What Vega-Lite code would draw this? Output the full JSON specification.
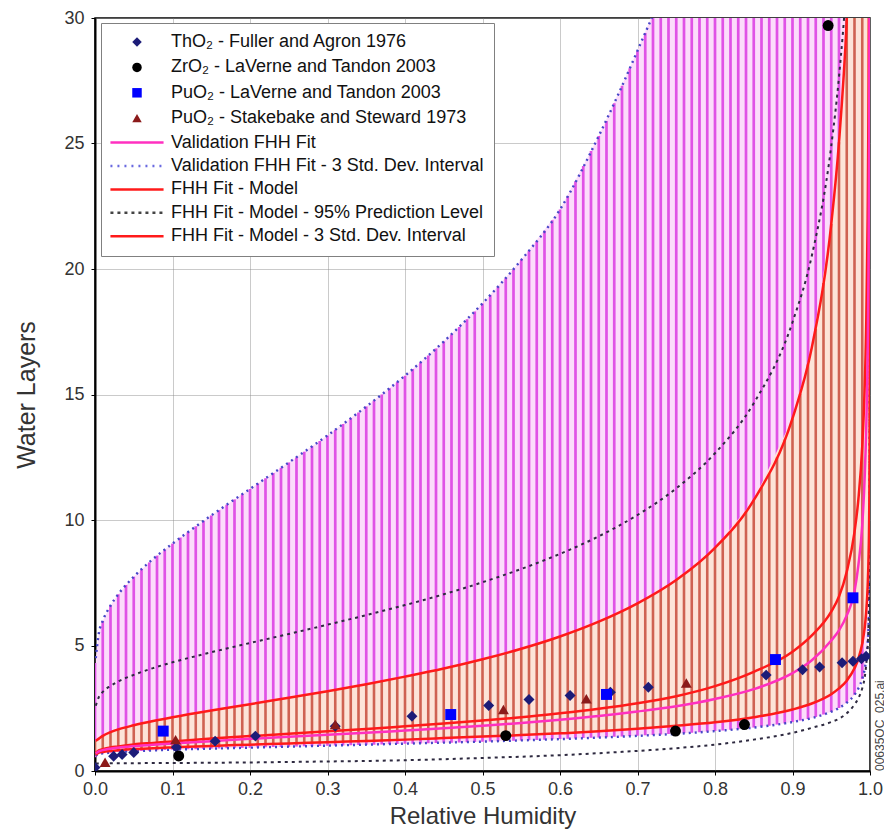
{
  "$schema": "https://vega.github.io/schema/vega-lite/v6.json",
  "width": 775,
  "height": 753,
  "autosize": {"type": "none"},
  "padding": {"left": 95, "top": 18, "right": 14, "bottom": 64},
  "background": "white",
  "title": {"text": "00635OC_025.ai", "orient": "right", "anchor": "end", "frame": "group", "angle": 270, "align": "left", "baseline": "middle", "offset": -15, "fontSize": 12, "fontWeight": "normal", "font": "Liberation Sans", "color": "#444444"},
  "config": {
    "font": "Liberation Sans",
    "view": {"stroke": "#000000", "strokeWidth": 1.5},
    "axis": {"zindex": 1, "gridColor": "#8a8a8a", "gridOpacity": 0.45, "gridWidth": 1, "domainColor": "#000000", "domainWidth": 2, "tickColor": "#000000", "tickSize": 4, "labelFontSize": 18, "labelColor": "#333333", "titleFontSize": 24, "titleFontWeight": "normal", "titleColor": "#333333"}
  },
  "datasets": {
    "h": [
      {"x":0.00,"vl":0.55,"vh":4.3,"ml":0.62,"mh":1.2},
      {"x":0.01,"vl":0.70,"vh":5.98,"ml":0.76,"mh":1.40},
      {"x":0.02,"vl":0.73,"vh":6.59,"ml":0.80,"mh":1.55},
      {"x":0.03,"vl":0.76,"vh":7.04,"ml":0.83,"mh":1.66},
      {"x":0.04,"vl":0.77,"vh":7.41,"ml":0.85,"mh":1.74},
      {"x":0.05,"vl":0.79,"vh":7.74,"ml":0.87,"mh":1.82},
      {"x":0.06,"vl":0.80,"vh":8.04,"ml":0.89,"mh":1.89},
      {"x":0.07,"vl":0.81,"vh":8.31,"ml":0.90,"mh":1.96},
      {"x":0.08,"vl":0.83,"vh":8.58,"ml":0.92,"mh":2.02},
      {"x":0.09,"vl":0.84,"vh":8.82,"ml":0.93,"mh":2.08},
      {"x":0.10,"vl":0.85,"vh":9.06,"ml":0.94,"mh":2.14},
      {"x":0.11,"vl":0.86,"vh":9.30,"ml":0.95,"mh":2.20},
      {"x":0.12,"vl":0.87,"vh":9.52,"ml":0.97,"mh":2.25},
      {"x":0.13,"vl":0.87,"vh":9.75,"ml":0.98,"mh":2.30},
      {"x":0.14,"vl":0.88,"vh":9.96,"ml":0.99,"mh":2.36},
      {"x":0.15,"vl":0.89,"vh":10.18,"ml":1.00,"mh":2.41},
      {"x":0.16,"vl":0.90,"vh":10.39,"ml":1.01,"mh":2.46},
      {"x":0.17,"vl":0.91,"vh":10.61,"ml":1.02,"mh":2.51},
      {"x":0.18,"vl":0.92,"vh":10.82,"ml":1.03,"mh":2.56},
      {"x":0.19,"vl":0.92,"vh":11.03,"ml":1.04,"mh":2.61},
      {"x":0.20,"vl":0.93,"vh":11.24,"ml":1.05,"mh":2.66},
      {"x":0.21,"vl":0.94,"vh":11.45,"ml":1.06,"mh":2.71},
      {"x":0.22,"vl":0.95,"vh":11.66,"ml":1.07,"mh":2.76},
      {"x":0.23,"vl":0.96,"vh":11.87,"ml":1.08,"mh":2.81},
      {"x":0.24,"vl":0.96,"vh":12.08,"ml":1.09,"mh":2.87},
      {"x":0.25,"vl":0.97,"vh":12.29,"ml":1.10,"mh":2.92},
      {"x":0.26,"vl":0.98,"vh":12.50,"ml":1.11,"mh":2.97},
      {"x":0.27,"vl":0.99,"vh":12.72,"ml":1.12,"mh":3.02},
      {"x":0.28,"vl":0.99,"vh":12.94,"ml":1.13,"mh":3.07},
      {"x":0.29,"vl":1.00,"vh":13.15,"ml":1.14,"mh":3.13},
      {"x":0.30,"vl":1.01,"vh":13.37,"ml":1.15,"mh":3.18},
      {"x":0.31,"vl":1.02,"vh":13.60,"ml":1.16,"mh":3.23},
      {"x":0.32,"vl":1.02,"vh":13.82,"ml":1.17,"mh":3.29},
      {"x":0.33,"vl":1.03,"vh":14.05,"ml":1.18,"mh":3.34},
      {"x":0.34,"vl":1.04,"vh":14.28,"ml":1.19,"mh":3.40},
      {"x":0.35,"vl":1.05,"vh":14.52,"ml":1.20,"mh":3.46},
      {"x":0.36,"vl":1.05,"vh":14.76,"ml":1.21,"mh":3.51},
      {"x":0.37,"vl":1.06,"vh":15.00,"ml":1.22,"mh":3.57},
      {"x":0.38,"vl":1.07,"vh":15.25,"ml":1.23,"mh":3.63},
      {"x":0.39,"vl":1.08,"vh":15.50,"ml":1.24,"mh":3.69},
      {"x":0.40,"vl":1.09,"vh":15.75,"ml":1.25,"mh":3.76},
      {"x":0.41,"vl":1.09,"vh":16.02,"ml":1.26,"mh":3.82},
      {"x":0.42,"vl":1.10,"vh":16.28,"ml":1.28,"mh":3.88},
      {"x":0.43,"vl":1.11,"vh":16.55,"ml":1.29,"mh":3.95},
      {"x":0.44,"vl":1.12,"vh":16.83,"ml":1.30,"mh":4.01},
      {"x":0.45,"vl":1.13,"vh":17.11,"ml":1.31,"mh":4.08},
      {"x":0.46,"vl":1.13,"vh":17.40,"ml":1.32,"mh":4.15},
      {"x":0.47,"vl":1.14,"vh":17.69,"ml":1.33,"mh":4.23},
      {"x":0.48,"vl":1.15,"vh":18.00,"ml":1.34,"mh":4.30},
      {"x":0.49,"vl":1.16,"vh":18.31,"ml":1.35,"mh":4.37},
      {"x":0.50,"vl":1.17,"vh":18.63,"ml":1.37,"mh":4.45},
      {"x":0.51,"vl":1.18,"vh":18.95,"ml":1.38,"mh":4.53},
      {"x":0.52,"vl":1.19,"vh":19.29,"ml":1.39,"mh":4.61},
      {"x":0.53,"vl":1.20,"vh":19.64,"ml":1.40,"mh":4.70},
      {"x":0.54,"vl":1.21,"vh":19.99,"ml":1.42,"mh":4.78},
      {"x":0.55,"vl":1.22,"vh":20.36,"ml":1.43,"mh":4.87},
      {"x":0.56,"vl":1.23,"vh":20.73,"ml":1.44,"mh":4.96},
      {"x":0.57,"vl":1.24,"vh":21.12,"ml":1.46,"mh":5.06},
      {"x":0.58,"vl":1.25,"vh":21.52,"ml":1.47,"mh":5.16},
      {"x":0.59,"vl":1.26,"vh":21.94,"ml":1.49,"mh":5.26},
      {"x":0.60,"vl":1.27,"vh":22.37,"ml":1.50,"mh":5.36},
      {"x":0.61,"vl":1.28,"vh":22.9,"ml":1.52,"mh":5.47},
      {"x":0.62,"vl":1.29,"vh":23.5,"ml":1.53,"mh":5.58},
      {"x":0.63,"vl":1.31,"vh":24.1,"ml":1.55,"mh":5.70},
      {"x":0.64,"vl":1.32,"vh":24.7,"ml":1.57,"mh":5.82},
      {"x":0.65,"vl":1.33,"vh":25.3,"ml":1.58,"mh":5.95},
      {"x":0.66,"vl":1.34,"vh":25.9,"ml":1.60,"mh":6.08},
      {"x":0.67,"vl":1.36,"vh":26.6,"ml":1.62,"mh":6.22},
      {"x":0.68,"vl":1.37,"vh":27.3,"ml":1.64,"mh":6.37},
      {"x":0.69,"vl":1.39,"vh":28.0,"ml":1.66,"mh":6.52},
      {"x":0.70,"vl":1.40,"vh":28.7,"ml":1.68,"mh":6.68},
      {"x":0.71,"vl":1.42,"vh":29.4,"ml":1.70,"mh":6.84},
      {"x":0.72,"vl":1.43,"vh":30.2,"ml":1.72,"mh":7.02},
      {"x":0.73,"vl":1.45,"vh":31.0,"ml":1.75,"mh":7.21},
      {"x":0.74,"vl":1.47,"vh":31.6,"ml":1.77,"mh":7.40},
      {"x":0.75,"vl":1.48,"vh":32.5,"ml":1.80,"mh":7.61},
      {"x":0.76,"vl":1.50,"vh":33.4,"ml":1.82,"mh":7.83},
      {"x":0.77,"vl":1.52,"vh":34.4,"ml":1.85,"mh":8.07},
      {"x":0.78,"vl":1.54,"vh":35.5,"ml":1.88,"mh":8.32},
      {"x":0.79,"vl":1.57,"vh":36.6,"ml":1.91,"mh":8.60},
      {"x":0.80,"vl":1.59,"vh":37.9,"ml":1.94,"mh":8.89},
      {"x":0.81,"vl":1.61,"vh":39.3,"ml":1.98,"mh":9.20},
      {"x":0.82,"vl":1.64,"vh":40.7,"ml":2.01,"mh":9.55},
      {"x":0.83,"vl":1.67,"vh":42.2,"ml":2.05,"mh":9.92},
      {"x":0.84,"vl":1.70,"vh":43.9,"ml":2.10,"mh":10.33},
      {"x":0.85,"vl":1.73,"vh":45.7,"ml":2.14,"mh":10.79},
      {"x":0.86,"vl":1.77,"vh":47.8,"ml":2.19,"mh":11.29},
      {"x":0.87,"vl":1.80,"vh":50.0,"ml":2.25,"mh":11.85},
      {"x":0.88,"vl":1.85,"vh":52.6,"ml":2.31,"mh":12.49},
      {"x":0.89,"vl":1.89,"vh":55.5,"ml":2.38,"mh":13.21},
      {"x":0.90,"vl":1.95,"vh":59.0,"ml":2.45,"mh":14.05},
      {"x":0.91,"vl":2.01,"vh":63,"ml":2.54,"mh":15.03},
      {"x":0.92,"vl":2.07,"vh":67,"ml":2.64,"mh":16.20},
      {"x":0.93,"vl":2.15,"vh":72,"ml":2.75,"mh":17.63},
      {"x":0.94,"vl":2.25,"vh":78,"ml":2.89,"mh":19.44},
      {"x":0.95,"vl":2.36,"vh":86,"ml":3.06,"mh":21.79},
      {"x":0.96,"vl":2.51,"vh":96,"ml":3.29,"mh":25.05},
      {"x":0.97,"vl":2.72,"vh":110,"ml":3.60,"mh":29.92},
      {"x":0.98,"vl":3.04,"vh":135,"ml":4.09,"mh":38.5},
      {"x":0.99,"vl":3.67,"vh":190,"ml":5.08,"mh":58.9}
    ],
    "c": [
      {"x":0.001,"vh":4.5,"vl":0.6,"mh":1.2,"ml":0.65,"mf":0.73,"vf":0.70,"ph":2.6,"pl":0.3},
      {"x":0.005,"vh":5.5,"vl":0.68,"mh":1.29,"ml":0.73,"mf":0.82,"vf":0.78,"ph":2.95,"pl":0.3},
      {"x":0.01,"vh":5.98,"vl":0.70,"mh":1.40,"ml":0.76,"mf":0.87,"vf":0.83,"ph":3.15,"pl":0.3},
      {"x":0.02,"vh":6.59,"vl":0.73,"mh":1.55,"ml":0.80,"mf":0.94,"vf":0.89,"ph":3.39,"pl":0.31},
      {"x":0.03,"vh":7.04,"vl":0.76,"mh":1.66,"ml":0.83,"mf":0.98,"vf":0.93,"ph":3.57,"pl":0.31},
      {"x":0.05,"vh":7.74,"vl":0.79,"mh":1.82,"ml":0.87,"mf":1.06,"vf":0.99,"ph":3.83,"pl":0.31},
      {"x":0.075,"vh":8.45,"vl":0.82,"mh":1.99,"ml":0.91,"mf":1.12,"vf":1.05,"ph":4.10,"pl":0.32},
      {"x":0.1,"vh":9.06,"vl":0.85,"mh":2.14,"ml":0.94,"mf":1.18,"vf":1.10,"ph":4.33,"pl":0.32},
      {"x":0.15,"vh":10.18,"vl":0.89,"mh":2.41,"ml":1.00,"mf":1.29,"vf":1.19,"ph":4.73,"pl":0.33},
      {"x":0.2,"vh":11.24,"vl":0.93,"mh":2.66,"ml":1.05,"mf":1.39,"vf":1.28,"ph":5.10,"pl":0.34},
      {"x":0.25,"vh":12.29,"vl":0.97,"mh":2.92,"ml":1.10,"mf":1.48,"vf":1.36,"ph":5.46,"pl":0.36},
      {"x":0.3,"vh":13.37,"vl":1.01,"mh":3.18,"ml":1.15,"mf":1.58,"vf":1.44,"ph":5.83,"pl":0.38},
      {"x":0.35,"vh":14.52,"vl":1.05,"mh":3.46,"ml":1.20,"mf":1.67,"vf":1.52,"ph":6.21,"pl":0.40},
      {"x":0.4,"vh":15.75,"vl":1.09,"mh":3.76,"ml":1.25,"mf":1.78,"vf":1.61,"ph":6.61,"pl":0.43},
      {"x":0.45,"vh":17.11,"vl":1.13,"mh":4.08,"ml":1.31,"mf":1.89,"vf":1.70,"ph":7.04,"pl":0.47},
      {"x":0.5,"vh":18.63,"vl":1.17,"mh":4.45,"ml":1.37,"mf":2.01,"vf":1.80,"ph":7.52,"pl":0.52},
      {"x":0.55,"vh":20.36,"vl":1.22,"mh":4.87,"ml":1.43,"mf":2.14,"vf":1.91,"ph":8.05,"pl":0.57},
      {"x":0.6,"vh":22.37,"vl":1.27,"mh":5.36,"ml":1.50,"mf":2.30,"vf":2.04,"ph":8.65,"pl":0.63},
      {"x":0.65,"vh":25.3,"vl":1.33,"mh":5.95,"ml":1.58,"mf":2.48,"vf":2.19,"ph":9.35,"pl":0.71},
      {"x":0.7,"vh":28.7,"vl":1.40,"mh":6.68,"ml":1.68,"mf":2.70,"vf":2.37,"ph":10.20,"pl":0.80},
      {"x":0.75,"vh":32.5,"vl":1.48,"mh":7.61,"ml":1.80,"mf":2.98,"vf":2.58,"ph":11.26,"pl":0.91},
      {"x":0.8,"vh":37.9,"vl":1.59,"mh":8.89,"ml":1.94,"mf":3.38,"vf":2.87,"ph":12.66,"pl":1.05},
      {"x":0.85,"vh":45.7,"vl":1.73,"mh":10.79,"ml":2.14,"mf":3.95,"vf":3.26,"ph":14.65,"pl":1.25},
      {"x":0.9,"vh":59,"vl":1.95,"mh":14.05,"ml":2.45,"mf":4.75,"vf":3.90,"ph":17.88,"pl":1.52},
      {"x":0.925,"vh":70,"vl":2.11,"mh":16.88,"ml":2.69,"mf":5.40,"vf":4.41,"ph":20.54,"pl":1.72},
      {"x":0.95,"vh":86,"vl":2.36,"mh":21.79,"ml":3.06,"mf":6.35,"vf":5.20,"ph":24.9,"pl":1.95},
      {"x":0.96,"vh":96,"vl":2.51,"mh":25.05,"ml":3.29,"mf":6.95,"vf":5.60,"ph":27.66,"pl":2.08},
      {"x":0.97,"vh":110,"vl":2.72,"mh":29.92,"ml":3.60,"mf":7.94,"vf":6.20,"ph":31.6,"pl":2.3},
      {"x":0.98,"vh":135,"vl":3.04,"mh":38.5,"ml":4.09,"mf":9.52,"vf":7.15,"ph":38.2,"pl":2.65},
      {"x":0.985,"vh":160,"vl":3.29,"mh":45.9,"ml":4.47,"mf":10.82,"vf":8.2,"ph":45,"pl":2.9},
      {"x":0.99,"vh":190,"vl":3.67,"mh":58.9,"ml":5.08,"mf":12.94,"vf":9.8,"ph":55,"pl":3.3},
      {"x":0.993,"vh":230,"vl":4.04,"mh":75,"ml":5.67,"mf":15.15,"vf":11.6,"ph":65,"pl":3.7},
      {"x":0.995,"vh":270,"vl":4.43,"mh":90,"ml":6.30,"mf":17.58,"vf":13.5,"ph":75,"pl":4.2},
      {"x":0.997,"vh":350,"vl":5.08,"mh":120,"ml":7.38,"mf":22.02,"vf":16.7,"ph":95,"pl":5.0},
      {"x":0.998,"vh":420,"vl":5.67,"mh":150,"ml":8.37,"mf":26.32,"vf":19.8,"ph":110,"pl":5.8},
      {"x":0.999,"vh":560,"vl":6.84,"mh":210,"ml":10.38,"mf":35.7,"vf":26.3,"ph":150,"pl":7.5},
      {"x":0.9995,"vh":700,"vl":8.25,"mh":300,"ml":12.87,"mf":48,"vf":35,"ph":200,"pl":9.5},
      {"x":0.99999,"vh":2000,"vl":23.7,"mh":1500,"ml":43,"mf":300,"vf":200,"ph":1000,"pl":25},
      {"x":1.0,"vh":3000,"vl":40,"mh":2000,"ml":60,"mf":400,"vf":300,"ph":1500,"pl":40}
    ],
    "p": [
      {"s":"ThO₂ - Fuller and Agron 1976","x":0.0,"y":0.14},
      {"s":"ThO₂ - Fuller and Agron 1976","x":0.024,"y":0.59},
      {"s":"ThO₂ - Fuller and Agron 1976","x":0.035,"y":0.66},
      {"s":"ThO₂ - Fuller and Agron 1976","x":0.05,"y":0.74},
      {"s":"ThO₂ - Fuller and Agron 1976","x":0.105,"y":0.95},
      {"s":"ThO₂ - Fuller and Agron 1976","x":0.155,"y":1.19},
      {"s":"ThO₂ - Fuller and Agron 1976","x":0.207,"y":1.39},
      {"s":"ThO₂ - Fuller and Agron 1976","x":0.31,"y":1.78},
      {"s":"ThO₂ - Fuller and Agron 1976","x":0.409,"y":2.18},
      {"s":"ThO₂ - Fuller and Agron 1976","x":0.508,"y":2.61},
      {"s":"ThO₂ - Fuller and Agron 1976","x":0.56,"y":2.85},
      {"s":"ThO₂ - Fuller and Agron 1976","x":0.613,"y":3.01},
      {"s":"ThO₂ - Fuller and Agron 1976","x":0.665,"y":3.14},
      {"s":"ThO₂ - Fuller and Agron 1976","x":0.714,"y":3.34},
      {"s":"ThO₂ - Fuller and Agron 1976","x":0.866,"y":3.82},
      {"s":"ThO₂ - Fuller and Agron 1976","x":0.913,"y":4.03},
      {"s":"ThO₂ - Fuller and Agron 1976","x":0.935,"y":4.14},
      {"s":"ThO₂ - Fuller and Agron 1976","x":0.964,"y":4.31},
      {"s":"ThO₂ - Fuller and Agron 1976","x":0.978,"y":4.37},
      {"s":"ThO₂ - Fuller and Agron 1976","x":0.989,"y":4.47},
      {"s":"ThO₂ - Fuller and Agron 1976","x":0.995,"y":4.57},
      {"s":"ZrO₂ - LaVerne and Tandon 2003","x":0.108,"y":0.6},
      {"s":"ZrO₂ - LaVerne and Tandon 2003","x":0.53,"y":1.41},
      {"s":"ZrO₂ - LaVerne and Tandon 2003","x":0.749,"y":1.59},
      {"s":"ZrO₂ - LaVerne and Tandon 2003","x":0.838,"y":1.85},
      {"s":"ZrO₂ - LaVerne and Tandon 2003","x":0.946,"y":29.7},
      {"s":"PuO₂ - LaVerne and Tandon 2003","x":0.088,"y":1.59},
      {"s":"PuO₂ - LaVerne and Tandon 2003","x":0.459,"y":2.25},
      {"s":"PuO₂ - LaVerne and Tandon 2003","x":0.66,"y":3.05},
      {"s":"PuO₂ - LaVerne and Tandon 2003","x":0.878,"y":4.44},
      {"s":"PuO₂ - LaVerne and Tandon 2003","x":0.978,"y":6.9},
      {"s":"PuO₂ - Stakebake and Steward 1973","x":0.013,"y":0.35},
      {"s":"PuO₂ - Stakebake and Steward 1973","x":0.104,"y":1.25},
      {"s":"PuO₂ - Stakebake and Steward 1973","x":0.31,"y":1.85},
      {"s":"PuO₂ - Stakebake and Steward 1973","x":0.527,"y":2.45},
      {"s":"PuO₂ - Stakebake and Steward 1973","x":0.634,"y":2.88},
      {"s":"PuO₂ - Stakebake and Steward 1973","x":0.763,"y":3.51}
    ]
  },
  "layer": [
    {
      "data": {"name": "c"},
      "mark": {"type": "area", "color": "#fcdcfb", "clip": true},
      "encoding": {
        "x": {"field": "x", "type": "quantitative", "scale": {"domain": [0, 1], "nice": false, "zero": false}, "axis": {"title": "Relative Humidity", "values": [0,0.1,0.2,0.3,0.4,0.5,0.6,0.7,0.8,0.9,1.0], "format": ".1f", "labelPadding": 5, "titlePadding": 6, "labelFlush": false}},
        "y": {"field": "vl", "type": "quantitative", "scale": {"domain": [0, 30], "nice": false}, "axis": {"title": "Water Layers", "titleFontSize": 25, "values": [0,5,10,15,20,25,30], "labelPadding": 7, "titlePadding": 24, "labelFlush": false}},
        "y2": {"field": "vh"}
      }
    },
    {
      "data": {"name": "h"},
      "mark": {"type": "rule", "color": "#e052e6", "strokeWidth": 2.7, "clip": true},
      "encoding": {
        "x": {"field": "x", "type": "quantitative"},
        "y": {"field": "vl", "type": "quantitative"},
        "y2": {"field": "vh"}
      }
    },
    {
      "data": {"name": "c"},
      "mark": {"type": "area", "color": "#fde4d8", "clip": true},
      "encoding": {
        "x": {"field": "x", "type": "quantitative"},
        "y": {"field": "ml", "type": "quantitative"},
        "y2": {"field": "mh"}
      }
    },
    {
      "data": {"name": "h"},
      "mark": {"type": "rule", "color": "#cf6252", "strokeWidth": 2.6, "clip": true},
      "encoding": {
        "x": {"field": "x", "type": "quantitative"},
        "y": {"field": "ml", "type": "quantitative"},
        "y2": {"field": "mh"}
      }
    },
    {
      "data": {"name": "c"},
      "mark": {"type": "line", "color": "#4646c8", "strokeWidth": 2.4, "strokeDash": [2, 4], "clip": true, "interpolate": "monotone"},
      "encoding": {"x": {"field": "x", "type": "quantitative"}, "y": {"field": "vh", "type": "quantitative"}}
    },
    {
      "data": {"name": "c"},
      "mark": {"type": "line", "color": "#4646c8", "strokeWidth": 2.4, "strokeDash": [2, 4], "clip": true, "interpolate": "monotone"},
      "encoding": {"x": {"field": "x", "type": "quantitative"}, "y": {"field": "vl", "type": "quantitative"}}
    },
    {
      "data": {"name": "c"},
      "mark": {"type": "line", "color": "#2e2a40", "strokeWidth": 2, "strokeDash": [3, 4], "clip": true, "interpolate": "monotone"},
      "encoding": {"x": {"field": "x", "type": "quantitative"}, "y": {"field": "ph", "type": "quantitative"}}
    },
    {
      "data": {"name": "c"},
      "mark": {"type": "line", "color": "#2e2a40", "strokeWidth": 2, "strokeDash": [3, 4], "clip": true, "interpolate": "monotone"},
      "encoding": {"x": {"field": "x", "type": "quantitative"}, "y": {"field": "pl", "type": "quantitative"}}
    },
    {
      "data": {"name": "c"},
      "mark": {"type": "line", "color": "#ff1a1a", "strokeWidth": 2.5, "clip": true, "interpolate": "monotone"},
      "encoding": {"x": {"field": "x", "type": "quantitative"}, "y": {"field": "mh", "type": "quantitative"}}
    },
    {
      "data": {"name": "c"},
      "mark": {"type": "line", "color": "#ff1a1a", "strokeWidth": 2.5, "clip": true, "interpolate": "monotone"},
      "encoding": {"x": {"field": "x", "type": "quantitative"}, "y": {"field": "ml", "type": "quantitative"}}
    },
    {
      "data": {"name": "c"},
      "mark": {"type": "line", "color": "#ff1a1a", "strokeWidth": 2.5, "clip": true, "interpolate": "monotone"},
      "encoding": {"x": {"field": "x", "type": "quantitative"}, "y": {"field": "mf", "type": "quantitative"}}
    },
    {
      "data": {"name": "c"},
      "mark": {"type": "line", "color": "#ff30c0", "strokeWidth": 2.5, "clip": true, "interpolate": "monotone"},
      "encoding": {"x": {"field": "x", "type": "quantitative"}, "y": {"field": "vf", "type": "quantitative"}}
    },
    {
      "data": {"name": "p"},
      "mark": {"type": "point", "filled": true, "opacity": 1, "size": 120, "strokeWidth": 1, "clip": true},
      "encoding": {
        "x": {"field": "x", "type": "quantitative"},
        "y": {"field": "y", "type": "quantitative"},
        "fill": {
          "field": "s", "type": "nominal",
          "scale": {
            "domain": ["ThO₂ - Fuller and Agron 1976", "ZrO₂ - LaVerne and Tandon 2003", "PuO₂ - LaVerne and Tandon 2003", "PuO₂ - Stakebake and Steward 1973", "Validation FHH Fit", "Validation FHH Fit - 3 Std. Dev. Interval", "FHH Fit - Model", "FHH Fit - Model - 95% Prediction Level", "FHH Fit - Model - 3 Std. Dev. Interval"],
            "range": ["#1c1c78", "#000000", "#0000ff", "#8b1a1a", "transparent", "transparent", "transparent", "transparent", "transparent"]
          },
          "legend": {
            "title": null, "orient": "none", "legendX": 6, "legendY": 5, "direction": "vertical",
            "fillColor": "#ffffff", "strokeColor": "#808080", "padding": 10, "cornerRadius": 0,
            "symbolSize": 90, "symbolStrokeWidth": 2.5, "symbolOpacity": 1,
            "rowPadding": 5.4, "labelOffset": 25, "symbolOffset": 17,
            "labelFontSize": 18, "labelFont": "Liberation Sans", "labelColor": "#111111", "labelLimit": 0
          }
        },
        "stroke": {
          "field": "s", "type": "nominal",
          "scale": {
            "domain": ["ThO₂ - Fuller and Agron 1976", "ZrO₂ - LaVerne and Tandon 2003", "PuO₂ - LaVerne and Tandon 2003", "PuO₂ - Stakebake and Steward 1973", "Validation FHH Fit", "Validation FHH Fit - 3 Std. Dev. Interval", "FHH Fit - Model", "FHH Fit - Model - 95% Prediction Level", "FHH Fit - Model - 3 Std. Dev. Interval"],
            "range": ["transparent", "transparent", "transparent", "transparent", "#ff30c0", "#6a6ae0", "#ff1a1a", "#444444", "#ff1a1a"]
          }
        },
        "shape": {
          "field": "s", "type": "nominal",
          "scale": {
            "domain": ["ThO₂ - Fuller and Agron 1976", "ZrO₂ - LaVerne and Tandon 2003", "PuO₂ - LaVerne and Tandon 2003", "PuO₂ - Stakebake and Steward 1973", "Validation FHH Fit", "Validation FHH Fit - 3 Std. Dev. Interval", "FHH Fit - Model", "FHH Fit - Model - 95% Prediction Level", "FHH Fit - Model - 3 Std. Dev. Interval"],
            "range": ["diamond", "circle", "square", "triangle-up", "M-5.6,0L5.6,0", "M-5.6,0L5.6,0", "M-5.6,0L5.6,0", "M-5.6,0L5.6,0", "M-5.6,0L5.6,0"]
          }
        },
        "strokeDash": {
          "field": "s", "type": "nominal",
          "scale": {
            "domain": ["ThO₂ - Fuller and Agron 1976", "ZrO₂ - LaVerne and Tandon 2003", "PuO₂ - LaVerne and Tandon 2003", "PuO₂ - Stakebake and Steward 1973", "Validation FHH Fit", "Validation FHH Fit - 3 Std. Dev. Interval", "FHH Fit - Model", "FHH Fit - Model - 95% Prediction Level", "FHH Fit - Model - 3 Std. Dev. Interval"],
            "range": [[1, 0], [1, 0], [1, 0], [1, 0], [1, 0], [2, 5], [1, 0], [3, 4], [1, 0]]
          }
        }
      }
    }
  ]
}
